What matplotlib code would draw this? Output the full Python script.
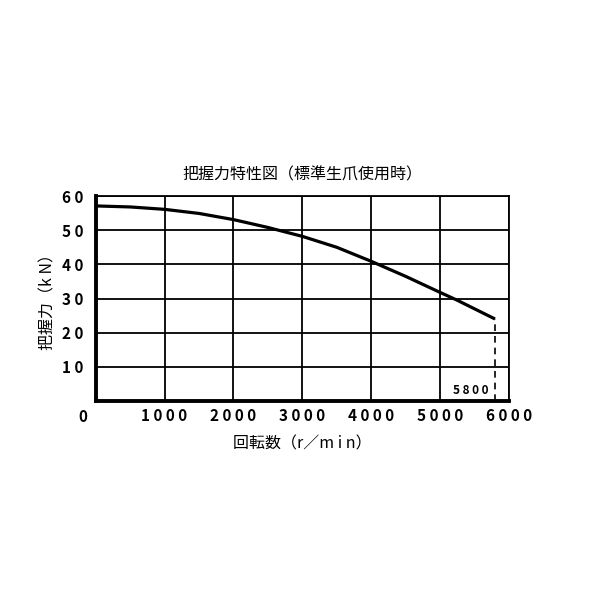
import matplotlib
matplotlib.use("Agg")
import matplotlib.pyplot as plt

plt.rcParams['font.family'] = ['Noto Sans CJK JP', 'DejaVu Sans']

# grip force curve
speed = [0, 500, 1000, 1500, 2000, 2500, 3000, 3500, 4000, 4500, 5000, 5250, 5500, 5800]
force = [57.1, 56.8, 56.1, 54.9, 53.1, 50.8, 48.2, 45.0, 40.9, 36.5, 31.8, 29.5, 27.0, 24.0]

x_ticks = [1000, 2000, 3000, 4000, 5000, 6000]
y_ticks = [10, 20, 30, 40, 50, 60]
max_speed = 5800

title = "把握力特性図（標準生爪使用時）"
x_label = "回転数（r／m i n）"
y_label = "把握力（k N）"


def spaced(v):
    return " ".join(str(v))


fig = plt.figure(figsize=(6, 6), dpi=100)
ax = fig.add_axes([0.1595, 0.3317, 0.6885, 0.3416])

ax.set_xlim(0, 6000)
ax.set_ylim(0, 60)

ax.set_xticks(x_ticks)
ax.set_xticklabels([spaced(v) for v in x_ticks], fontsize=11, fontweight='bold')
ax.set_yticks(y_ticks)
ax.set_yticklabels([spaced(v) for v in y_ticks], fontsize=11, fontweight='bold')
ax.tick_params(axis='y', length=0, pad=9)
ax.tick_params(axis='x', length=0, pad=5)

ax.grid(True, color='black', linewidth=1.3)
ax.set_axisbelow(True)

for side in ['top', 'right']:
    ax.spines[side].set_linewidth(1.3)
for side in ['left', 'bottom']:
    ax.spines[side].set_linewidth(2.8)

ax.plot(speed, force, color='black', linewidth=2.3, solid_capstyle='butt',
        solid_joinstyle='round', zorder=3)
ax.plot([max_speed, max_speed], [0, force[-1]], color='black', linewidth=1.2,
        linestyle=(0, (4, 3)), zorder=3)

ax.annotate(spaced(max_speed), xy=(max_speed, 0), xytext=(-5, 3),
            textcoords='offset points', ha='right', va='bottom',
            fontsize=8.5, fontweight='bold')
ax.annotate("0", xy=(0, 0), xytext=(-9, -6), textcoords='offset points',
            ha='center', va='top', fontsize=11, fontweight='bold',
            annotation_clip=False)

ax.set_title(title, fontsize=11.5, pad=12)
ax.set_xlabel(x_label, fontsize=11.5, labelpad=8)
ax.set_ylabel(y_label, fontsize=11.5, labelpad=4)

fig.savefig("out.png", dpi=100)
